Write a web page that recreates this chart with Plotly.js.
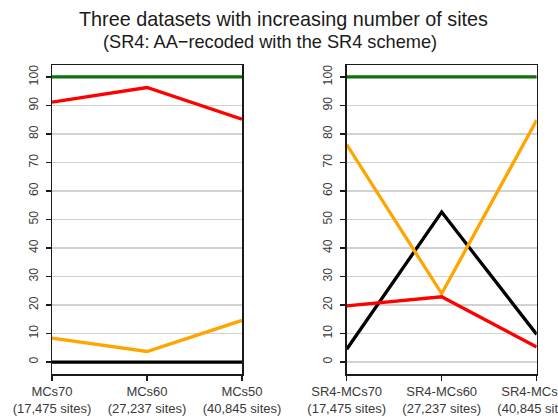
<!DOCTYPE html>
<html>
<head>
<meta charset="utf-8">
<script src="https://cdn.plot.ly/plotly-3.0.1.min.js"></script>
<style>html,body{margin:0;padding:0;background:#fff;}#chart{width:558px;height:419px;}</style>
</head>
<body>
<div id="chart"></div>
<script>
// ---- data ----
var categoriesLeft = ['MCs70<br>(17,475 sites)', 'MCs60<br>(27,237 sites)', 'MCs50<br>(40,845 sites)'];
var categoriesRight = ['SR4-MCs70<br>(17,475 sites)', 'SR4-MCs60<br>(27,237 sites)', 'SR4-MCs50<br>(40,845 sites)'];
var leftGreen = [100, 100, 100];
var leftRed = [91.2, 96.3, 85.2];
var leftOrange = [8.4, 3.7, 14.6];
var leftBlack = [0, 0, 0];
var rightGreen = [100, 100, 100];
var rightRed = [19.7, 22.9, 5.3];
var rightOrange = [76.3, 24.0, 84.9];
var rightBlack = [4.5, 52.6, 9.7];
var yTickVals = [0, 10, 20, 30, 40, 50, 60, 70, 80, 90, 100];
var titleText = 'Three datasets with increasing number of sites';
var subtitleText = '(SR4: AA\u2212recoded with the SR4 scheme)';

var colors = {black: '#000000', red: '#ff0000', orange: '#ffa500', green: '#0d700d'};
var LW = 3.3;
function tr(x, y, col, xa, ya) {
  return {x: x, y: y, type: 'scatter', mode: 'lines', line: {color: col, width: LW},
          xaxis: xa, yaxis: ya, showlegend: false, hoverinfo: 'skip'};
}
var data = [
  tr(categoriesLeft, leftBlack, colors.black, 'x', 'y'),
  tr(categoriesLeft, leftOrange, colors.orange, 'x', 'y'),
  tr(categoriesLeft, leftRed, colors.red, 'x', 'y'),
  tr(categoriesLeft, leftGreen, colors.green, 'x', 'y'),
  tr(categoriesRight, rightBlack, colors.black, 'x2', 'y2'),
  tr(categoriesRight, rightOrange, colors.orange, 'x2', 'y2'),
  tr(categoriesRight, rightRed, colors.red, 'x2', 'y2'),
  tr(categoriesRight, rightGreen, colors.green, 'x2', 'y2')
];

var W = 558, H = 419;
var yDom = [(H - 374) / H, (H - 65) / H];
function xax(dom, anchor) {
  return {domain: dom, anchor: anchor, type: 'category', range: [0, 2], fixedrange: true,
          showline: true, mirror: true, linecolor: '#1a1a1a', linewidth: 1.5,
          showgrid: false, zeroline: false, ticks: 'outside', ticklen: 5, tickwidth: 1.5,
          tickcolor: '#1a1a1a', ticklabelstandoff: 0,
          tickfont: {family: 'Liberation Sans, Arial, sans-serif', size: 13, color: '#3a3a3a'}};
}
function yax(anchor) {
  return {domain: yDom, anchor: anchor, range: [-4.2, 104.2], fixedrange: true,
          tickvals: yTickVals, ticktext: yTickVals.map(String), tickangle: -90,
          showline: true, mirror: true, linecolor: '#1a1a1a', linewidth: 1.5,
          showgrid: true, gridcolor: '#d2d2d2', gridwidth: 1.6, zeroline: false,
          ticks: 'outside', ticklen: 5, tickwidth: 1.5, tickcolor: '#1a1a1a', ticklabelstandoff: 3,
          tickfont: {family: 'Liberation Sans, Arial, sans-serif', size: 12.3, color: '#3a3a3a'}};
}
var layout = {
  width: W, height: H,
  margin: {l: 0, r: 0, t: 0, b: 0},
  paper_bgcolor: '#ffffff', plot_bgcolor: '#ffffff',
  showlegend: false,
  xaxis: xax([52 / W, 242 / W], 'y'),
  yaxis: yax('x'),
  xaxis2: xax([346.7 / W, 536.7 / W], 'y2'),
  yaxis2: yax('x2'),
  annotations: [
    {text: titleText, xref: 'paper', yref: 'paper', x: 283.5 / W, y: 1 - 19 / H,
     xanchor: 'center', yanchor: 'middle', showarrow: false,
     font: {family: 'Liberation Sans, Arial, sans-serif', size: 19.8, color: '#1a1a1a'}},
    {text: subtitleText, xref: 'paper', yref: 'paper', x: 269.5 / W, y: 1 - 41.5 / H,
     xanchor: 'center', yanchor: 'middle', showarrow: false,
     font: {family: 'Liberation Sans, Arial, sans-serif', size: 18.2, color: '#1a1a1a'}}
  ]
};
Plotly.newPlot('chart', data, layout, {staticPlot: true, displayModeBar: false});
</script>
</body>
</html>
